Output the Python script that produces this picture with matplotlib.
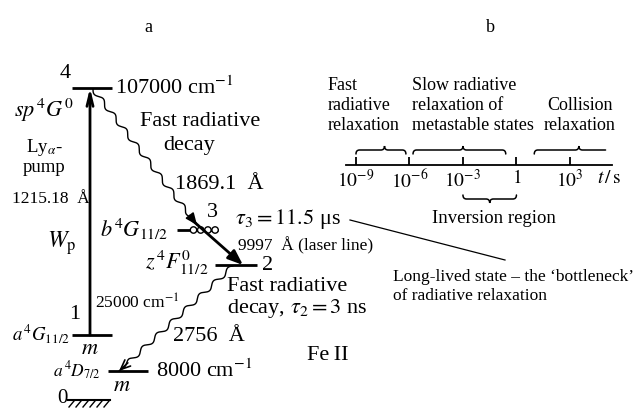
import numpy as np
import matplotlib
matplotlib.use("Agg")
import matplotlib.pyplot as plt
from matplotlib.path import Path
from matplotlib.patches import PathPatch, Circle

plt.rcParams["font.family"] = ["Liberation Serif", "DejaVu Serif"]
plt.rcParams["mathtext.fontset"] = "stix"

# level scheme of Fe II (diagram units = pixels, y downward)
level_ids = ["4", "3", "2", "1", "m", "0"]
level_terms = [r"$sp\,{}^{4}G^{0}$", r"$b\,{}^{4}G_{11/2}$", r"$z\,{}^{4}F^{0}_{11/2}$",
               r"$a\,{}^{4}G_{11/2}$", r"$a\,{}^{4}D_{7/2}$", ""]
level_y = [89, 231, 266, 336, 372, 401]
level_x0 = [72, 177, 215, 72, 108, 68]
level_x1 = [112, 218, 257, 112, 148, 110]
energies = ["107000 cm$^{-1}$", "25000 cm$^{-1}$", "8000 cm$^{-1}$"]
wavelengths = ["1215.18  Å", "1869.1  Å", "9997  Å (laser line)", "2756  Å"]

# time scale of relaxation processes (panel b)
decades = [-9, -6, -3, 0, 3]
tick_labels = ["$10^{-9}$", "$10^{-6}$", "$10^{-3}$", "$1$", "$10^{3}$"]
process_spans = [(-9, -6.2), (-5.8, -0.6), (1.0, 5.0)]
inversion_span = (-3, 0)


def wavy(ax, p0, p1, n, amp, head="-|>", lw=1.0):
    p0, p1 = np.array(p0, float), np.array(p1, float)
    d = p1 - p0
    L = np.hypot(*d)
    u = d / L
    nrm = np.array([-u[1], u[0]])
    t = np.linspace(0, 1, 600)
    env = np.clip((1 - t) / 0.1, 0, 1)
    pts = p0[None] + t[:, None] * d[None] + (amp * env * np.sin(2 * np.pi * n * t))[:, None] * nrm[None]
    ax.plot(pts[:, 0], pts[:, 1], color="k", lw=lw, solid_capstyle="round")
    ax.annotate("", xy=p1, xytext=p1 - 12 * u,
                arrowprops=dict(arrowstyle=head + ",head_length=0.7,head_width=0.3", color="k", lw=1.2,
                                shrinkA=0, shrinkB=0))


def brace(ax, x0, x1, xm, y, h, rx, lw=1.1, right_curl=True):
    verts = [(x0, y + h), (x0, y), (x0 + rx, y), (xm - rx, y), (xm, y), (xm, y - h)]
    codes = [Path.MOVETO, Path.CURVE3, Path.CURVE3, Path.LINETO, Path.CURVE3, Path.CURVE3]
    verts += [(xm, y), (xm + rx, y)]
    codes += [Path.CURVE3, Path.CURVE3]
    if right_curl:
        verts += [(x1 - rx, y), (x1, y), (x1, y + h)]
        codes += [Path.LINETO, Path.CURVE3, Path.CURVE3]
    else:
        verts += [(x1, y)]
        codes += [Path.LINETO]
    ax.add_patch(PathPatch(Path(verts, codes), fill=False, lw=lw, color="k", capstyle="round"))


fig = plt.figure(figsize=(6.41, 4.10), dpi=100)
ax = fig.add_axes([0, 0, 1, 1])
ax.set_xlim(0, 641)
ax.set_ylim(410, 0)
ax.axis("off")

big = 16
mid = 13.5
small = 12.5

ax.text(148, 27, "a", ha="center", va="center", fontsize=13)
ax.text(490, 27, "b", ha="center", va="center", fontsize=13)

# levels
for i in range(5):
    ax.plot([level_x0[i], level_x1[i]], [level_y[i], level_y[i]], color="k", lw=2.0, solid_capstyle="butt")
# ground with hatching
ax.plot([level_x0[5], level_x1[5]], [level_y[5], level_y[5]], color="k", lw=1.5)
for xh in np.arange(level_x0[5] + 6, level_x1[5] + 1, 7):
    ax.plot([xh, xh - 5], [level_y[5] + 1, level_y[5] + 7], color="k", lw=1.0)

# metastable population on level 3
for k in range(4):
    ax.add_patch(Circle((193.5 + 7.2 * k, level_y[1]), 3.2, fill=True, fc="white", ec="k", lw=1.0, zorder=3))

# level numbers
ax.text(65, 73, level_ids[0], ha="center", va="center", fontsize=big)
ax.text(212, 213, level_ids[1], ha="center", va="center", fontsize=big)
ax.text(268, 266, level_ids[2], ha="center", va="center", fontsize=big)
ax.text(75, 315, level_ids[3], ha="center", va="center", fontsize=big)
ax.text(62, 399, level_ids[5], ha="center", va="center", fontsize=big - 1)
ax.text(90, 350, "$m$", ha="center", va="center", fontsize=big)
ax.text(122, 387, "$m$", ha="center", va="center", fontsize=big)

# terms
ax.text(74, 110, level_terms[0], ha="right", va="center", fontsize=big)
ax.text(168, 229, level_terms[1], ha="right", va="center", fontsize=big)
ax.text(208, 263, level_terms[2], ha="right", va="center", fontsize=big)
ax.text(70, 334, level_terms[3], ha="right", va="center", fontsize=mid)
ax.text(101, 371, level_terms[4], ha="right", va="center", fontsize=mid - 1)

# energies
ax.text(115, 88, energies[0], ha="left", va="center", fontsize=big)
ax.text(95, 303, energies[1], ha="left", va="center", fontsize=small)
ax.text(156, 371, energies[2], ha="left", va="center", fontsize=big)

# pump
ax.annotate("", xy=(90, level_y[0]), xytext=(90, level_y[3]),
            arrowprops=dict(arrowstyle="->,head_length=0.9,head_width=0.22", color="k", lw=2.0,
                            shrinkA=0, shrinkB=0))
ax.text(44, 148, r"Ly$_{\alpha}$-", ha="center", va="center", fontsize=mid)
ax.text(44, 168, "pump", ha="center", va="center", fontsize=mid)
ax.text(12, 199, wavelengths[0], ha="left", va="center", fontsize=small)
ax.text(62, 243, r"$W_{\mathrm{p}}$", ha="center", va="center", fontsize=big + 1)

# transitions
wavy(ax, (93, 90), (197, 226), 9, 2.3)
ax.annotate("", xy=(243, 266), xytext=(192, 221),
            arrowprops=dict(arrowstyle="-|>,head_length=0.9,head_width=0.35", color="k", lw=2.0,
                            shrinkA=0, shrinkB=0))
wavy(ax, (233, 267), (119, 372), 8, 2.3, head="->")

ax.text(200, 122, "Fast radiative", ha="center", va="center", fontsize=big)
ax.text(189, 146, "decay", ha="center", va="center", fontsize=big)
ax.text(175, 185, wavelengths[1], ha="left", va="center", fontsize=big)
ax.text(235, 219, r"$\tau_3 = 11.5$ μs", ha="left", va="center", fontsize=big)
ax.text(238, 246, wavelengths[2], ha="left", va="center", fontsize=small)
ax.text(227, 287, "Fast radiative", ha="left", va="center", fontsize=big)
ax.text(227, 309, r"decay, $\tau_2 = 3$ ns", ha="left", va="center", fontsize=big)
ax.text(173, 337, wavelengths[3], ha="left", va="center", fontsize=big)
ax.text(307, 356, "Fe\u2009II", ha="left", va="center", fontsize=big)

ax.plot([350, 505], [221, 261], color="k", lw=0.9)
ax.text(393, 277, "Long-lived state – the ‘bottleneck’", ha="left", va="center", fontsize=small)
ax.text(393, 296, "of radiative relaxation", ha="left", va="center", fontsize=small)

# panel b: time axis in decades
axb = fig.add_axes([346 / 641, 0, 266 / 641, 1])
axb.set_xlim(-9.56, 5.36)
axb.set_ylim(410, 0)
axb.patch.set_visible(False)
for s in ["top", "left", "right"]:
    axb.spines[s].set_visible(False)
axb.spines["bottom"].set_position(("data", 166))
axb.spines["bottom"].set_linewidth(1.3)
axb.set_yticks([])
axb.set_xticks(decades)
axb.set_xticklabels(tick_labels, fontsize=14)
axb.tick_params(axis="x", direction="in", length=6, width=1.3, pad=2)

rx = 0.2
brace(axb, process_spans[0][0], process_spans[0][1], -7.4, 151, 4, rx)
brace(axb, process_spans[1][0], process_spans[1][1], -3.0, 151, 4, rx)
brace(axb, process_spans[2][0], process_spans[2][1], 3.5, 151, 4, rx, right_curl=False)
brace(axb, inversion_span[0], inversion_span[1], -1.5, 200, -4, rx)

ax.text(597, 179, r"$t\,/\,\mathrm{s}$", ha="left", va="center", fontsize=14)
ax.text(494, 219, "Inversion region", ha="center", va="center", fontsize=mid)

lab_b = 13
for j, line in enumerate(["Fast", "radiative", "relaxation"]):
    ax.text(328, 86 + 19.5 * j, line, ha="left", va="center", fontsize=lab_b)
for j, line in enumerate(["Slow radiative", "relaxation of", "metastable states"]):
    ax.text(412, 86 + 19.5 * j, line, ha="left", va="center", fontsize=lab_b)
for j, line in enumerate(["Collision", "relaxation"]):
    ax.text(580, 105.5 + 19.5 * j, line, ha="center", va="center", fontsize=lab_b)

fig.savefig("out.png", dpi=100)
